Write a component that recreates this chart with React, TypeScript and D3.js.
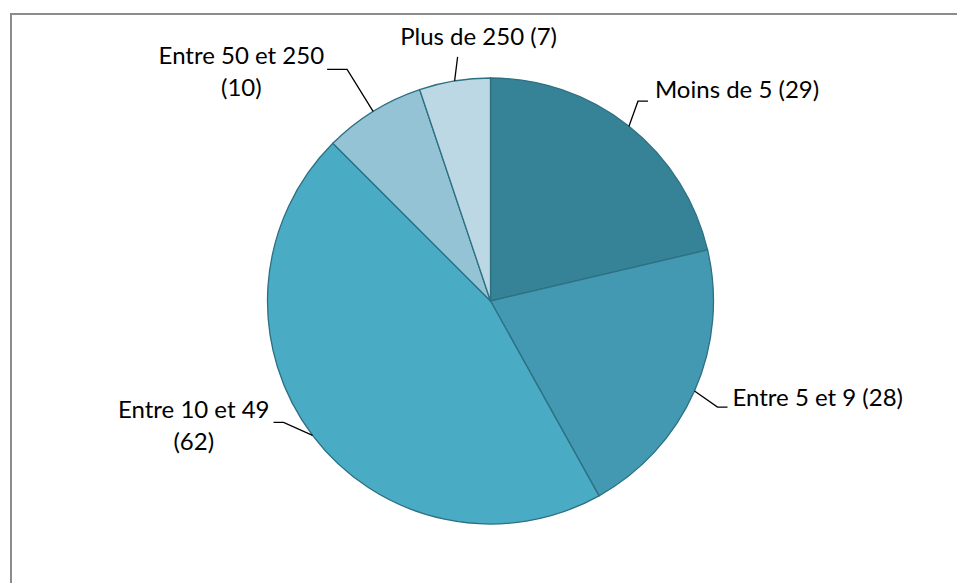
import * as d3 from "d3";
import { useEffect, useRef } from "react";

// Données
const categories = ["Moins de 5", "Entre 5 et 9", "Entre 10 et 49", "Entre 50 et 250", "Plus de 250"];
const values = [29, 28, 62, 10, 7];
const colors = ["#368297", "#4399b1", "#4aabc5", "#93c3d4", "#bcd8e4"];

// Placement des étiquettes (coude et texte) relatif au bord du secteur
const labelLayout = [
  { elbow: [9, -25], end: [19, -25], anchor: "start", tx: 26, ty: -34, lines: 1 },
  { elbow: [23, 16], end: [33, 16], anchor: "start", tx: 38, ty: 9, lines: 1 },
  { elbow: [-29, -13], end: [-39, -13], anchor: "end", tx: -43, ty: -23, lines: 2 },
  { elbow: [-26, -42], end: [-46, -42], anchor: "end", tx: -49, ty: -53, lines: 2 },
  { elbow: [3, -24], end: [3, -24], anchor: "middle", tx: 24, ty: -42, lines: 1 },
];

const App = () => {
  const ref = useRef<SVGSVGElement>(null);

  useEffect(() => {
    const svg = d3.select(ref.current);
    svg.selectAll("*").remove();

    const cx = 490.5;
    const cy = 301;
    const radius = 223;

    // Cadre (seuls les bords haut et gauche sont visibles)
    svg.append("path")
      .attr("d", "M11,600 L11,14 L960,14")
      .attr("fill", "none")
      .attr("stroke", "#8c8c8c")
      .attr("stroke-width", 2);

    const data = categories.map((c, i) => ({ label: c, value: values[i], i }));
    const pie = d3.pie<any>().value(d => d.value).sort(null);
    const arcs = pie(data);
    const arc = d3.arc<any>().innerRadius(0).outerRadius(radius);

    const g = svg.append("g").attr("transform", `translate(${cx},${cy})`);

    g.selectAll("path.slice")
      .data(arcs)
      .enter()
      .append("path")
      .attr("class", "slice")
      .attr("d", arc)
      .attr("fill", d => colors[d.data.i])
      .attr("stroke", "#2d7082")
      .attr("stroke-width", 1.3);

    // Étiquettes avec lignes de rappel
    arcs.forEach((a, i) => {
      const mid = (a.startAngle + a.endAngle) / 2;
      const px = radius * Math.sin(mid);
      const py = -radius * Math.cos(mid);
      const lay = labelLayout[i];
      const pts: [number, number][] = [
        [px, py],
        [px + lay.elbow[0], py + lay.elbow[1]],
        [px + lay.end[0], py + lay.end[1]],
      ];
      g.append("path")
        .attr("d", d3.line()(pts))
        .attr("fill", "none")
        .attr("stroke", "#000")
        .attr("stroke-width", 1.3);

      const t = g.append("text")
        .attr("x", px + lay.tx)
        .attr("y", py + lay.ty)
        .attr("text-anchor", lay.anchor)
        .attr("dominant-baseline", "middle")
        .style("font-family", "Lato, 'Open Sans', sans-serif")
        .style("font-size", "24px")
        .attr("fill", "#000");
      if (lay.lines === 2) {
        t.attr("text-anchor", "middle");
        const x0 = px + lay.tx;
        t.append("tspan").attr("x", 0).attr("dy", 0).text(categories[i]);
        t.append("tspan").attr("x", 0).attr("dy", 32).text(`(${values[i]})`);
        // centrer le bloc sur la fin de la première ligne
        const w = (t.select("tspan").node() as SVGTSpanElement).getComputedTextLength();
        t.selectAll("tspan").attr("x", x0 - w / 2);
      } else {
        t.text(`${categories[i]} (${values[i]})`);
      }
    });
  }, []);

  return (
    <svg
      ref={ref}
      width={957}
      height={583}
      style={{ position: "absolute", left: 0, top: 0, background: "#fff" }}
    />
  );
};

export default App;
